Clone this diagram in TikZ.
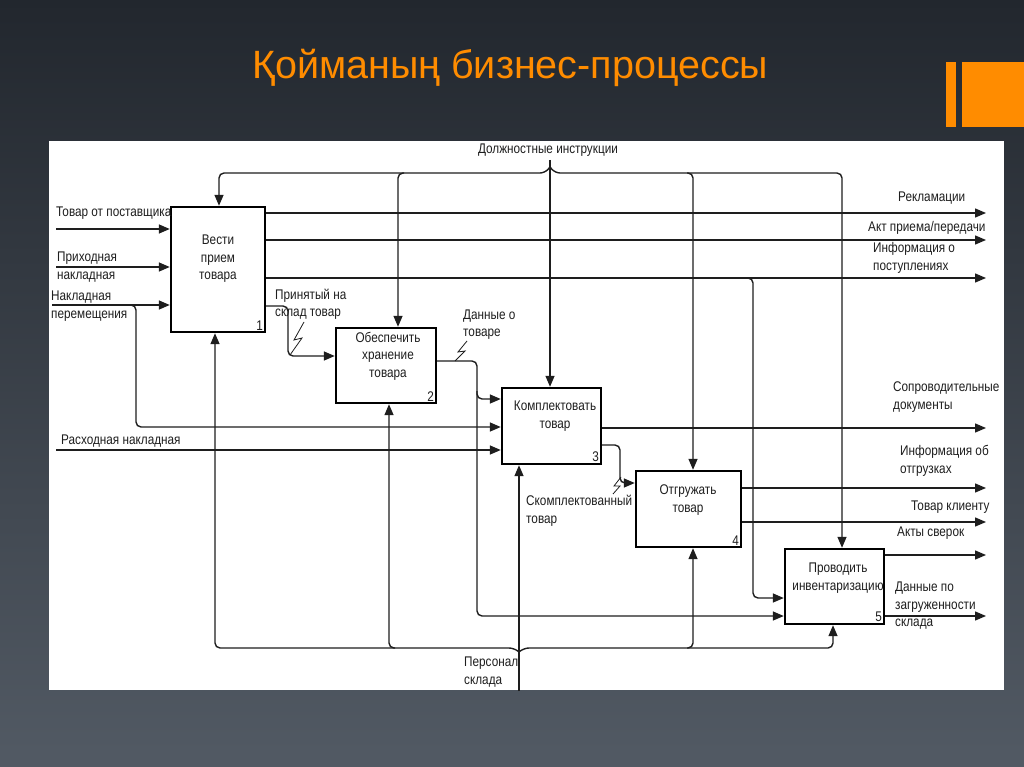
\documentclass[tikz,border=0pt]{standalone}
\usepackage{fontspec}
\setmainfont{Liberation Sans}
\newfontfamily\dfont[FakeStretch=0.84]{Liberation Sans}
\usetikzlibrary{arrows.meta,calc}
\definecolor{orng}{RGB}{255,140,0}
\definecolor{bgtop}{RGB}{34,39,46}
\definecolor{bgmid}{RGB}{46,52,60}
\definecolor{bgbot}{RGB}{82,90,100}
\definecolor{ink}{RGB}{30,30,30}
\begin{document}
\begin{tikzpicture}[x=1pt,y=-1pt,
  box/.style={draw=black, line width=2.4pt, fill=white, inner sep=0pt},
  btxt/.style={font=\dfont\fontsize{14}{17.5}\selectfont, align=center, inner sep=0pt, text=ink},
  num/.style={font=\dfont\fontsize{14}{17}\selectfont, inner sep=3pt, anchor=south east, text=ink},
  lab/.style={font=\dfont\fontsize{14}{17.5}\selectfont, align=left, inner sep=0pt, anchor=west, text=ink},
  conn/.style={draw=ink, line width=1.4pt, rounded corners=5pt},
  arr/.style={conn, -{Triangle[length=11pt,width=9pt]}},
  sq/.style={draw=ink, line width=0.8pt}]
\useasboundingbox (0,0) rectangle (1024,767);
\shade[top color=bgtop, middle color=bgmid, bottom color=bgbot] (0,0) rectangle (1024,767);
% logo
\fill[orng] (946,62) rectangle (956,127);
\fill[orng] (962,62) rectangle (1024,127);
% title
\node[anchor=base west, text=orng, font=\fontsize{39.5}{42}\selectfont, inner sep=0pt] (title) at (252,79) {Қойманың бизнес-процессы};
% panel
\fill[white] (49,141) rectangle (1004,690);

% boxes
\node[box, minimum width=94pt, minimum height=125pt] (b1) at (218,269.5) {};
\node[box, minimum width=100pt, minimum height=75pt] (b2) at (386,365.5) {};
\node[box, minimum width=99pt, minimum height=76pt] (b3) at (551.5,426) {};
\node[box, minimum width=105pt, minimum height=76pt] (b4) at (688.5,509) {};
\node[box, minimum width=99pt, minimum height=75pt] (b5) at (834.5,586.5) {};
\node[btxt] (b1t) at (218,259) {Вести\\прием\\товара};
\node[btxt] (b2t) at (388,356) {Обеспечить\\хранение\\товара};
\node[btxt] (b3t) at (555,416) {Комплектовать\\товар};
\node[btxt] (b4t) at (688,500) {Отгружать\\товар};
\node[btxt] (b5t) at (838,578) {Проводить\\инвентаризацию};
\node[num] (n1) at (b1.south east) {1};
\node[num] (n2) at (b2.south east) {2};
\node[num] (n3) at (b3.south east) {3};
\node[num] (n4) at (b4.south east) {4};
\node[num] (n5) at (b5.south east) {5};

% labels
\node[lab, anchor=center] (lctl) at (548,150) {Должностные инструкции};
\node[lab] (l1) at (56,213) {Товар от поставщика};
\node[lab] (l2) at (57,267) {Приходная\\накладная};
\node[lab] (l3) at (51,306) {Накладная\\перемещения};
\node[lab] (l4) at (61,441) {Расходная накладная};
\node[lab] (l5) at (275,304.5) {Принятый на\\склад товар};
\node[lab] (l6) at (463,324.5) {Данные о\\товаре};
\node[lab] (l7) at (898,198) {Рекламации};
\node[lab] (l8) at (868,228) {Акт приема/передачи};
\node[lab] (l9) at (873,258) {Информация о\\поступлениях};
\node[lab] (l10) at (893,397) {Сопроводительные\\документы};
\node[lab] (l11) at (900,461) {Информация об\\отгрузках};
\node[lab] (l12) at (911,507) {Товар клиенту};
\node[lab] (l13) at (897,533) {Акты сверок};
\node[lab] (l14) at (895,606) {Данные по\\загруженности\\склада};
\node[lab] (l15) at (526,511) {Скомплектованный\\товар};
\node[lab] (l16) at (464,672) {Персонал\\склада};

% coordinates
\coordinate (i1) at (56,229);
\coordinate (i2) at (56,267);
\coordinate (i3) at (52,305);
\coordinate (i4) at (56,450);
\coordinate (o1) at (986,213);
\coordinate (o2) at (986,240);
\coordinate (o3) at (986,278);
\coordinate (o4) at (986,428);
\coordinate (o5) at (986,488);
\coordinate (o6) at (986,522);
\coordinate (o7) at (986,555);
\coordinate (o8) at (986,616);
\coordinate (c0) at (550,160);
\coordinate (m0) at (519,691);

% inputs
\draw[arr] (i1) -- (i1 -| b1.west);
\draw[arr] (i2) -- (i2 -| b1.west);
\draw[arr] (i3) -- (i3 -| b1.west);
\draw[arr] (130,305) -- (136,305) -- (136,427) -- (b3.west |- 0,427);
\draw[arr] (i4) -- (i4 -| b3.west);

% controls
\draw[arr] (c0) -- (c0 |- b3.north);
\draw[arr] (550,167) -- (545,173) -- (219,173) -- (219,0 |- b1.north);
\draw[arr] (550,167) -- (555,173) -- (842,173) -- (842,0 |- b5.north);
\draw[arr] (404,173) -- (398,173) -- (398,0 |- b2.north);
\draw[arr] (687,173) -- (693,173) -- (693,0 |- b4.north);

% mechanisms
\draw[arr] (m0) -- (m0 |- b3.south);
\draw[arr] (519,652) -- (514,648) -- (215,648) -- (215,0 |- b1.south);
\draw[arr] (519,652) -- (524,648) -- (833,648) -- (833,0 |- b5.south);
\draw[arr] (395,648) -- (389,648) -- (389,0 |- b2.south);
\draw[arr] (687,648) -- (693,648) -- (693,0 |- b4.south);

% internal flows
\draw[arr] (b1.east |- 0,306) -- (288,306) -- (288,356) -- (b2.west |- 0,356);
\draw[arr] (b2.east |- 0,361) -- (477,361) -- (477,616) -- (b5.west |- 0,616);
\draw[arr] (477,391) -- (477,399) -- (b3.west |- 0,399);
\draw[arr] (b3.east |- 0,445) -- (620,445) -- (620,483) -- (b4.west |- 0,483);
\draw[arr] (747,278) -- (753,278) -- (753,598) -- (b5.west |- 0,598);

% outputs
\draw[arr] (b1.east |- o1) -- (o1);
\draw[arr] (b1.east |- o2) -- (o2);
\draw[arr] (b1.east |- o3) -- (o3);
\draw[arr] (b3.east |- o4) -- (o4);
\draw[arr] (b4.east |- o5) -- (o5);
\draw[arr] (b4.east |- o6) -- (o6);
\draw[arr] (b5.east |- o7) -- (o7);
\draw[arr] (b5.east |- o8) -- (o8);

% squiggles
\draw[sq] (304,322) -- (294,340) -- (302,338) -- (290,355);
\draw[sq] (467,341) -- (458,352) -- (465,351) -- (455,361);
\draw[sq] (621,477) -- (614,486) -- (620,486) -- (613,494);
\end{tikzpicture}
\end{document}
